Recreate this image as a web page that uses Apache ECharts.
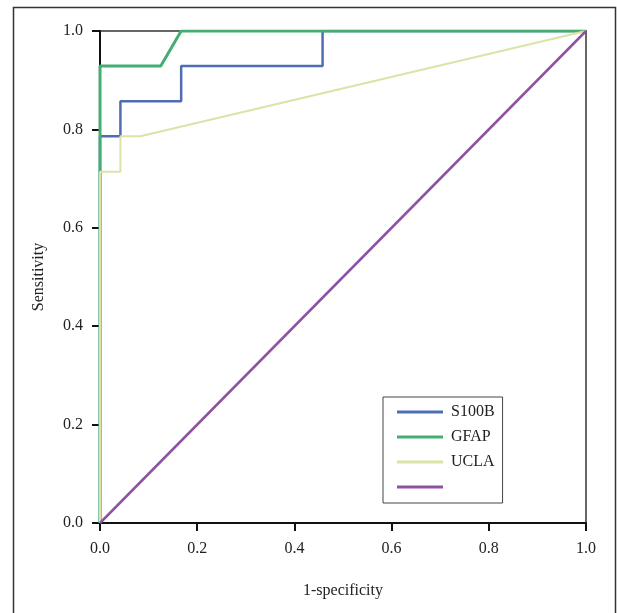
<!DOCTYPE html>
<html>
<head>
<meta charset="utf-8">
<script src="https://cdn.jsdelivr.net/npm/echarts@6/dist/echarts.min.js"></script>
<style>html,body{margin:0;padding:0;background:#fff}#c{width:617px;height:613px}</style>
</head>
<body>
<div id="c"></div>
<script>
// ROC curve points [1-specificity, sensitivity]
var s100b = [[0,0],[0,0.786],[0.042,0.786],[0.042,0.857],[0.167,0.857],[0.167,0.929],[0.458,0.929],[0.458,1],[1,1]];
var gfap  = [[0,0],[0,0.929],[0.125,0.929],[0.167,1],[1,1]];
var ucla  = [[0,0],[0,0.714],[0.042,0.714],[0.042,0.786],[0.083,0.786],[1,1]];
var reference = [[0,0],[1,1]];
var seriesNames = ['S100B','GFAP','UCLA',' '];
var tickValues = [0,0.2,0.4,0.6,0.8,1.0];

var serif = '"Liberation Serif","DejaVu Serif",serif';
var chart = echarts.init(document.getElementById('c'));
chart.setOption({
  animation: false,
  backgroundColor: '#fff',
  graphic: [{
    type: 'rect', left: 11, top: 5,
    shape: {width: 602, height: 640},
    style: {fill: 'none', stroke: '#333', lineWidth: 1.5}
  }],
  grid: {left: 100, right: 31, top: 31, bottom: 90, show: true, borderColor: '#666', borderWidth: 2, backgroundColor: 'transparent'},
  legend: {
    left: 383, top: 397, orient: 'vertical',
    data: seriesNames,
    icon: 'rect', itemWidth: 46, itemHeight: 3, itemGap: 9,
    borderColor: '#444', borderWidth: 1,
    padding: [7, 8, 8, 14],
    textStyle: {fontFamily: serif, fontSize: 16, color: '#222', padding: [0, 0, 0, 3]}
  },
  xAxis: {
    type: 'value', min: 0, max: 1, interval: 0.2,
    name: '1-specificity', nameLocation: 'middle', nameGap: 60,
    nameTextStyle: {fontFamily: serif, fontSize: 16, color: '#222'},
    axisLine: {show: true, lineStyle: {color: '#111', width: 2}},
    axisTick: {show: true, length: 8, lineStyle: {color: '#111', width: 2}},
    axisLabel: {fontFamily: serif, fontSize: 16, color: '#222', margin: 18, formatter: function(v){return v.toFixed(1);}},
    splitLine: {show: false}
  },
  yAxis: {
    type: 'value', min: 0, max: 1, interval: 0.2,
    name: 'Sensitivity', nameLocation: 'middle', nameGap: 53,
    nameTextStyle: {fontFamily: serif, fontSize: 16, color: '#222'},
    axisLine: {show: true, lineStyle: {color: '#111', width: 2}},
    axisTick: {show: true, length: 8, lineStyle: {color: '#111', width: 2}},
    axisLabel: {fontFamily: serif, fontSize: 16, color: '#222', margin: 17, formatter: function(v){return v.toFixed(1);}},
    splitLine: {show: false}
  },
  series: [
    {name: seriesNames[0], type: 'line', data: s100b, showSymbol: false, symbol: 'none', color: '#4f6db3', lineStyle: {width: 2.5, color: '#4f6db3'}},
    {name: seriesNames[1], type: 'line', data: gfap, showSymbol: false, symbol: 'none', color: '#44ad72', lineStyle: {width: 3, color: '#44ad72'}},
    {name: seriesNames[2], type: 'line', data: ucla, showSymbol: false, symbol: 'none', color: '#dce3a6', lineStyle: {width: 2, color: '#dce3a6'}},
    {name: seriesNames[3], type: 'line', data: reference, showSymbol: false, symbol: 'none', color: '#8e52a3', lineStyle: {width: 2.5, color: '#8e52a3'}}
  ]
});
</script>
</body>
</html>
